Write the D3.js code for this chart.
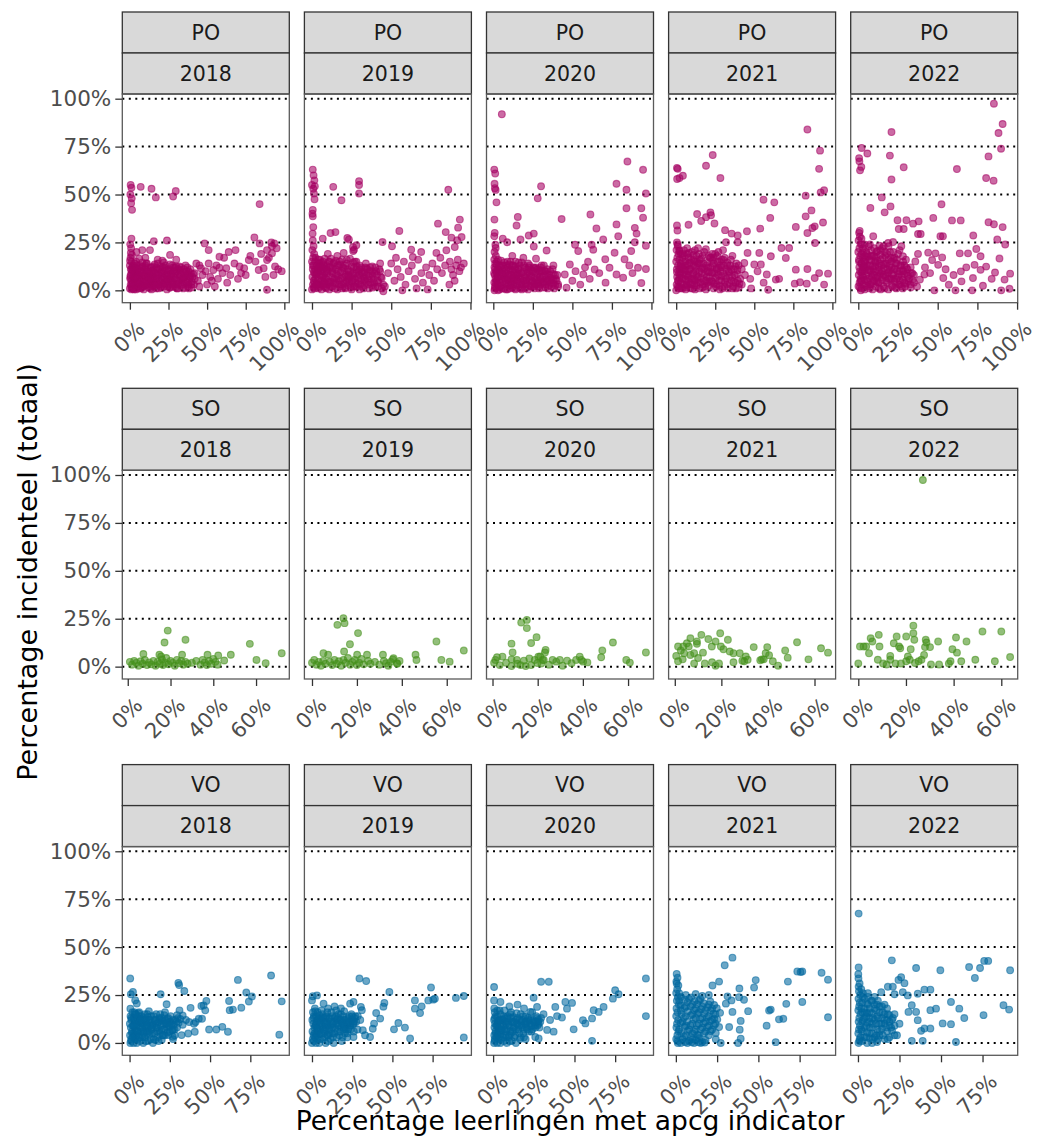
<!DOCTYPE html>
<html>
<head>
<meta charset="utf-8">
<script src="https://cdn.jsdelivr.net/npm/d3@7"></script>
<style>
  body { margin: 0; background: #fff; }
  text { font-family: "DejaVu Sans", Verdana, sans-serif; }
</style>
</head>
<body>
<svg id="chart"></svg>
<script>
const width = 1046,
  height = 1137;

const types = ["PO", "SO", "VO"];
const years = [2018, 2019, 2020, 2021, 2022];
const typeColors = ["#A50062", "#45901C", "#00689E"];
const yTicks = [0, 25, 50, 75, 100];
const xTicksPO = [0, 25, 50, 75, 100];
const xTicksSO = [0, 20, 40, 60];
const xTicksVO = [0, 25, 50, 75];
const xTitle = "Percentage leerlingen met apcg indicator";
const yTitle = "Percentage incidenteel (totaal)";

// points: [apcg %, incidenteel %]
const po2018 = [
  [0.5,55],[1,53.5],[0.3,50],[1.2,48],[0.8,45.5],[1.4,42],[7,54],[14,53],[16.8,48.5],[28,49],[29.7,51.8],[84,45],
  [0,1],[0.5,3],[1,5],[0.3,7],[1.2,9],[0.6,11],[0,13],[1,15],[0.4,17],[1.3,18.5],[0.8,22],[0.2,24],[1,27],[0.6,19.5],[0.1,15.5],[1.5,12],[0.9,2],[0.2,6],
  [4.3,20],[8,21],[13,21],[15.5,25.6],[24,26],[18,16],[26,18.5],[21,15.5],[30,16],[10,17],[6,16.5],[45,13],
  [2,1],[2,4],[2,7],[2,10],[2,13],[3,2.5],[3,5.5],[3,8.5],[3,12],[4,0.5],[4,4],[4,9],[4,15],[5,2],[5,6.5],[5,11],[6,3.5],[6,8],[6,13],[7,1],[7,5],[7,10],
  [8,3],[8,7.5],[8,12.5],[9,0.5],[9,5.5],[9,9.5],[10,2.5],[10,7],[10,12],[11,4.5],[11,14],[12,1.5],[12,6],[12,10],[13,3.5],[13,8],[14,0.5],[14,5],[14,12],
  [15,2.5],[15,7],[15,10.5],[16,4],[16,13.5],[17,1],[17,6],[17,9],[18,3],[18,11],[19,5],[19,8],[20,1.5],[20,12.5],[21,4],[21,7],[22,2],[22,10],[23,5.5],
  [23,13],[24,0.5],[24,8],[25,3],[25,11],[26,6],[26,1.5],[27,9],[27,4],[28,12],[28,2],[29,6.5],[30,10],[30,3.5],[31,8],[31,1],[32,5],[32,12.5],[33,2.5],
  [33,9.5],[34,6],[35,4],[35,11],[36,1.5],[36,8],[37,5.5],[38,3],[38,10],[39,7],[40,4.5],[41,8.5],[42,6],[40,1.5],[36,13],[20,9.5],[24,4.5],[28,7.5],[12,3],
  [1,0.5],[1.5,3.5],[2.5,6],[3.5,10],[4.5,13],[5.5,1],[6.5,6],[7.5,12],[8.5,2],[9.5,8],[10.5,14],[11.5,3],[12.5,9],[13.5,12],[14.5,2],[15.5,5],[16.5,9],
  [17.5,12],[18.5,1],[19.5,11],[20.5,6],[21.5,3],[22.5,12],[23.5,8],[24.5,2],[25.5,6],[26.5,10],[27.5,13],[28.5,4],[29.5,9],[30.5,1],[31.5,11],[32.5,7],
  [33.5,5],[34.5,1],[35.5,7],[36.5,10],[37.5,2],[38.5,6],[39.5,9],[2.2,11.5],[4.8,7.5],[7.2,3],[9.8,11],[12.2,5],[14.8,8.5],[17.2,4],[19.8,2],[22.2,6.5],
  [24.8,10],[27.2,5.5],[29.8,1.5],[32.2,10.5],[34.8,6.5],[37.2,12],[39.8,3],[3,14],[8,14.5],[18,14],[26,13.5],
  [0.5,8],[1.2,10.5],[2.7,0.5],[3.7,6.5],[4.2,11.5],[5.7,4],[6.2,9.5],[7.7,1.5],[8.2,9],[9.2,4],[10.7,5],[11.2,10],[11.8,7],[13.2,1],[13.8,6],[15.2,12.5],
  [16.2,2.5],[16.8,6.5],[18.2,8],[19.2,3],[20.8,9],[21.2,12],[22.8,4],[23.2,10.5],[24.2,6],[25.8,1.5],[26.2,8],[27.8,3],[28.2,10],[29.2,12],[30.2,5.5],
  [31.2,3],[32.8,8.5],[33.2,12],[34.2,3],[35.2,9],[36.8,4],[37.8,8],[38.2,1],[39.2,11],[40.5,7],[41.5,3],[10,13],[14,10],[22,14.5],[30,12.5],
  [43,14],[46,11.5],[51,14],[54,10.6],[58,11.8],[62.4,11.5],[67.7,14],[71,12.5],[74,11.5],[77,15.8],[81.3,15],[83.4,10.6],[86.6,11.5],[88.8,15.8],[92,19.3],
  [94,12.5],[96,11],[98.3,10],[87.7,7],[93,8],[75,8],[58,17.5],[61,17],[64,20],[68.4,21],[48.4,24.5],[51,21],[80.6,27.6],[84,24.5],[91.6,25],[93.5,24.5],
  [88.8,21],[92,23],[88.8,0.3],[44,5],[47,8],[50,3],[52,7],[55,2],[57,6],[60,9],[63,4],[65,8],[70,6],[72,9],[78,18],[85,19],[90,17],[95,22],[56,13],[42,9],
  [45,2],[49,10],[53,5]
];
const po2019 = [
  [0.5,63],[1,60],[1.5,57.4],[0,55],[1.8,54.3],[0.8,53],[1.2,50.5],[1.6,47.5],[0.5,42],[0.3,40],[0.5,38.6],[0.8,33],[0.4,29.6],[0.5,26],[1,23],[0.2,21],
  [1.4,19],[0.7,17],[0,15],[1.2,13],[0.5,11],[1.8,9],[0.3,7],[1.1,5],[0.6,3],[1.5,1],[0,0.5],
  [13.4,54],[18.6,47],[29.7,57],[29.7,55],[29.7,50.5],[86,52.5],
  [11.7,29.9],[14.8,30.4],[6.8,27],[22.3,27.3],[23.3,26.5],[25.9,22.6],[26.5,21.2],[44.5,25.2],[55.1,31],[50.5,23],[79.5,34.8],[84.4,30.4],[93.3,36.9],
  [92.2,32.7],[94.4,27.8],[88,27.5],[91.6,26.1],[90.1,22.6],[62.6,21.2],[68.9,20],[78.5,19.5],[63.6,17.4],[84.8,20.9],
  [46,2],[48,9],[50,14],[52,5],[54,11],[56,7],[58,15],[59,3],[61,10],[63,13],[65,6],[67,16],[69,9],[70,4],[72,12],[74,8],[76,14],[77,5],[79,11],[81,17],
  [82,9],[84,13],[86.7,3],[87,15],[88,11],[89,8],[91,13],[92,16],[93,10],[94,12],[95.8,14],[90,5],[57,0],[45,-0.5],[53,17],[66,1],[73,0.5],
  [2,2],[2,6],[2,11],[2,15],[3,4],[3,8.5],[3,13],[4,1],[4,6],[4,10.5],[4,16],[5,3],[5,8],[5,12.5],[6,0.5],[6,5],[6,14.5],[7,2.5],[7,7.5],[7,11],[8,4],
  [8,9],[8,16.5],[9,1],[9,6],[9,13],[10,3],[10,10],[11,7.5],[11,15],[11,0.5],[12,4.5],[12,12],[13,2],[13,9],[14,6],[14,14.5],[15,3.5],[15,11],[16,0.5],
  [16,7.5],[17,5],[17,13],[18,2],[18,9.5],[19,6.5],[19,16],[20,3.5],[20,11.5],[21,1],[21,8],[22,5],[22,14],[23,2.5],[23,10],[24,7],[25,0.5],[25,4.5],
  [25,12.5],[26,9],[27,2],[27,6],[28,11],[28,15],[29,3.5],[30,8],[30,0.5],[31,5.5],[31,12],[32,9.5],[33,2.5],[33,7],[34,4.5],[35,11],[36,1],[36,7.5],
  [37,4],[38,10],[39,6],[40,2],[40,12],[41,8],[42,4],[43,10],[44,6.5],[45,3],[43,14],[24,16.5],[26,20.5],[28,23.5],[16,18],[10,19],[20,19.5],
  [1,1.5],[1.5,4],[2.5,8],[3.5,11],[4.5,14],[5.5,2],[6.5,7],[7.5,13],[8.5,1.5],[9.5,9],[10.5,15],[11.5,4],[12.5,10],[13.5,14],[14.5,1],[15.5,6],[16.5,10],
  [17.5,15],[18.5,3],[19.5,12],[20.5,7],[21.5,4],[22.5,11],[23.5,6],[24.5,1.5],[25.5,8],[26.5,12],[27.5,4],[28.5,7],[29.5,10],[30.5,3],[31.5,9],[32.5,1],
  [33.5,12],[34.5,8],[35.5,3],[36.5,10],[37.5,6],[38.5,1.5],[39.5,9],[41.5,5],[42.5,11],[44,1],[2.2,17],[5,16],[8,11.5],[12,16.5],[18,13.5],[22,16],
  [26,14.5],[30,13],[34,14],[4,3],[7,5],[13,6.5],[19,1],[23,7.5],[28,2],[33,5],[38,12.5],
  [0.5,13],[1.2,9.5],[2.7,3],[3.7,9.5],[4.2,12],[5.7,10],[6.2,12.5],[7.7,3.5],[8.2,6.5],[9.2,11],[10.7,4.5],[11.2,12.5],[11.8,2],[13.2,11.5],[13.8,4],
  [15.2,8.5],[16.2,13],[16.8,3],[18.2,6],[19.2,10],[20.8,1.5],[21.2,13],[22.8,8],[23.2,4],[24.2,10],[25.8,5.5],[26.2,2],[27.8,9],[28.2,12.5],[29.2,6],
  [30.2,11],[31.2,2],[32.8,6],[33.2,9.5],[34.2,11.5],[35.2,6],[36.8,12],[37.8,2.5],[38.2,8],[39.2,4],[40.5,10],[41.5,2],[43.5,7],[15,15.5],[7,15],[27,15]
];
const po2020 = [
  [0.6,63],[1.2,61],[0.8,55.6],[1,53.3],[1.5,52.4],[2,45.9],[0.7,36.9],[0.9,30],[0.6,28.2],[1.3,23.8],[1.5,22.1],[0.8,20],[1.6,18],[0.6,16],[1.2,14],
  [0.7,12],[1.8,10],[0.9,8],[1.4,6],[0.6,4],[1.1,2],[0.7,0],
  [5.4,91.9],[30.2,54.3],[28.1,48],[15.5,38.3],[14.7,33.8],[43.2,37.2],[61.4,39.6],[65.2,32.3],[77.9,55.6],[84.2,52.5],[84.8,67.2],[94.7,62.9],[96.5,50.5],
  [84.2,42.8],[93.6,42.8],[94.7,37.9],[77.9,34.4],[79,28.2],[89.5,32.6],[90.6,29.6],[96.5,23.3],[89.5,25.1],[69.5,26.5],[62.2,23.8],[63.2,21.2],[51.7,23.8],
  [33.7,20.8],[17.2,26.5],[22.4,28.6],[25.6,29.6],[25.6,22.9],[8.8,25.1],[6,27],
  [96.5,11.1],[93.6,3.8],[87.2,20.5],[83,16.2],[76.7,19.6],[70.8,16.2],[73.5,11.8],[77.9,8.3],[82.1,6.6],[91.5,11.8],[59.9,14.9],[64.1,10.9],[56.9,8.3],
  [53.7,20.5],[48.4,13.5],[45.2,8.3],[46.3,1.4],[41,3.1],[50,5],[52,10],[55,3],[58,12],[61,6],[67,9],[71,4],[86,13],[88,9],
  [2,1.5],[2,5],[2,9],[2,13.5],[3,3],[3,7],[3,11],[3,16],[4,0.5],[4,5.5],[4,9.5],[5,2.5],[5,7.5],[5,13],[6,4.5],[6,10.5],[7,1],[7,6.5],[7,14.5],[8,3.5],
  [8,9],[9,0.5],[9,5.5],[9,12],[10,2.5],[10,8],[11,4.5],[11,10.5],[11,15],[12,1.5],[12,6.5],[13,3],[13,9.5],[14,0.5],[14,5.5],[14,12.5],[15,2.5],[15,8],
  [16,4.5],[16,11],[17,1],[17,6.5],[18,3],[18,9],[18,14.5],[19,5],[20,1],[20,7],[20,12],[21,3.5],[22,9.5],[22,0.5],[23,5.5],[23,13],[24,2],[24,7.5],
  [25,4.5],[25,10],[26,1],[26,6.5],[27,3],[27,12],[28,8.5],[29,5],[29,1],[30,10.5],[30,3],[31,7],[32,4.5],[32,13],[33,1.5],[34,8.5],[34,5],[35,2.5],
  [36,10],[37,6],[38,3.5],[39,8],[40,5],[38,13],[19,17],[12,18],[27,16.5],
  [1,1],[1.5,4],[2.5,7],[3.5,10],[4.5,12],[5.5,1],[6.5,6],[7.5,9],[8.5,13],[9.5,3],[10.5,11],[11.5,6],[12.5,13],[13.5,1],[14.5,8],[15.5,11],[16.5,3],
  [17.5,9],[18.5,6],[19.5,13],[20.5,3],[21.5,9],[22.5,12],[23.5,2],[24.5,5],[25.5,12],[26.5,9],[27.5,5],[28.5,2],[29.5,7],[30.5,13],[31.5,4],[32.5,10],
  [33.5,6],[34.5,1],[35.5,8],[36.5,4],[37.5,11],[38.5,1],[39.5,6],[2.2,15],[5,15.5],[9,15],[14,15],[3,0],[8,0.5],[13,5],[18,0.5],[23,9],[28,11],[33,10],
  [41,2],[6,8.5],[11,2.5],[16,7],[21,5.5],[26,3.5],[31,10],[36,6.5],[12,10],
  [0.5,9],[1.2,11],[2.7,3.5],[3.7,13],[4.2,2],[5.7,9],[6.2,13],[7.7,5],[8.2,11],[9.2,7],[10.7,1],[11.2,8],[11.8,13],[13.2,6.5],[13.8,11],[15.2,5],
  [16.2,9],[16.8,13],[18.2,1.5],[19.2,9.5],[20.8,5],[21.2,11],[22.8,2.5],[23.2,7],[24.2,10.5],[25.8,2],[26.2,11.5],[27.8,7],[28.2,3.5],[29.2,10],[30.2,6],
  [31.2,1.5],[32.8,7.5],[33.2,3],[34.2,11],[35.2,5],[36.8,2],[37.8,8.5],[38.2,5.5],[39.2,2.5],[40.5,8],[10,13.5],[16,14.5],[22,14],[30,12]
];
const po2021 = [
  [0.5,25],[1,23],[0.2,21],[1.5,19],[0.7,17],[0,15],[1.2,13],[0.4,11],[1.8,9],[0.6,7],[1.1,5],[0.3,3],[1.4,1],[0,0],[2,20.5],[0.9,24],
  [84,83.9],[92.1,72.9],[91.5,63.4],[94.7,52.2],[92.5,51.1],[82.9,49.4],[86.6,41.7],[82.9,38.6],[88.7,33.4],[87.2,32.5],[84,29.9],[94,35.4],[88.9,24.7],
  [76.6,33.1],[62.8,45.9],[55.9,47.3],[60.2,37.8],[53.8,32.2],[45.3,30.8],[23.4,70.6],[19.1,65],[28.3,58.6],[0.5,63.9],[1,63.4],[2.1,58.6],[4.3,59.8],
  [0.6,58.1],[13.4,39.8],[19.1,38.2],[21.9,40.7],[16,36.2],[24.5,34.9],[22.3,39.2],[7.9,34.2],[0.5,33.8],[0.8,31.2],[31.3,31.4],[35.5,29.6],[39.4,28.6],
  [31.9,25.1],[39.4,25.1],
  [97.2,8.7],[94.7,3],[91.5,9],[88.7,6.4],[84,11.1],[79.3,4.2],[76.6,10.8],[72.3,22.1],[70.2,16.9],[67.4,22.1],[60.6,17.8],[54.2,13.5],[58,8.3],[58.9,0.3],
  [63.8,5.6],[75.9,3.5],[83.6,3.5],[65.9,6],[47.4,6],[52.1,9.9],[53.2,19.5],[45.7,19.5],[43.6,14.3],[50,13.5],[42,3],[44,8],[48,1],[56,4],
  [2,2],[2,6.5],[2,11],[2,16],[3,4],[3,9],[3,14],[3,19],[4,1],[4,6],[4,12],[4,17],[5,3],[5,8.5],[5,21],[6,0.5],[6,5.5],[6,10.5],[6,15],[7,2.5],[7,13],
  [7,19],[8,4.5],[8,8],[8,17],[9,1],[9,11],[9,14.5],[10,6],[10,20],[10,3],[11,9],[11,16],[12,0.5],[12,5],[12,12.5],[13,2.5],[13,8],[13,18],[14,14],[14,4],
  [15,10],[15,1],[16,6.5],[16,16.5],[17,3],[17,12],[18,8.5],[18,20],[19,0.5],[19,5],[20,14.5],[20,10],[21,2.5],[21,7],[22,17],[22,12],[23,4.5],[23,9],
  [24,1],[24,14],[25,6.5],[25,19],[26,11],[26,3],[27,8],[28,15],[28,0.5],[29,5],[29,12],[30,9],[31,2],[31,17],[32,6],[33,13],[34,3.5],[34,9.5],[35,16],
  [36,1],[36,7],[37,11],[38,4],[39,8.5],[40,13],[40,1.5],[41,6],[30,21],[14,22],[27,20],[36,18],
  [1,2],[1.5,5],[2.5,8],[3.5,12],[4.5,15],[5.5,18],[6.5,3],[7.5,7],[8.5,11],[9.5,16],[10.5,1],[11.5,6],[12.5,10],[13.5,15],[14.5,19],[15.5,4],[16.5,9],
  [17.5,14],[18.5,2],[19.5,7],[20.5,12],[21.5,17],[22.5,5],[23.5,13],[24.5,9],[25.5,2],[26.5,15],[27.5,5],[28.5,10],[29.5,1],[30.5,13],[31.5,7],[32.5,3],
  [33.5,10],[34.5,13],[35.5,5],[36.5,2],[37.5,8],[38.5,14],[39.5,5],[2.2,21],[5,11],[8,19.5],[11,13],[14,7],[17,18],[20,4],[23,19],[26,7],[29,16],[32,11],
  [3,1],[6,8],[9,6],[12,15],[15,14],[18,11],[21,9.5],[24,17],[27,11.5],
  [0.5,9.5],[2.7,12.5],[3.7,6.5],[4.2,19],[5.7,13],[6.2,1.5],[7.7,10],[8.2,14],[9.2,3.5],[10.7,8.5],[11.2,18.5],[11.8,2.5],[13.2,12],[13.8,6],[15.2,16],
  [16.2,11.5],[16.8,1.5],[18.2,5],[19.2,13],[20.8,18],[21.2,4.5],[22.8,9.5],[23.2,15.5],[24.2,3.5],[25.8,11.5],[26.2,18],[27.8,2.5],[28.2,13],[29.2,7.5],
  [30.2,16],[31.2,4.5],[32.8,14.5],[33.2,1],[34.2,7.5],[35.2,11],[36.8,4.5],[37.8,12.5],[38.2,1],[39.2,10.5],[40.5,3.5],[42,11],[12,21],[19,21.5],[7,22]
];
const po2022 = [
  [0.5,30],[1,28],[0.2,26],[1.5,24],[0.7,22],[0,20],[1.2,18],[0.4,16],[1.8,14],[0.6,12],[1.1,10],[0.3,8],[1.4,6],[0.8,4],[0.1,2],[1.6,0],[2,27],[0.9,31],
  [85.4,97.4],[90.9,86.8],[88.3,82.1],[89.9,73.9],[82,69.9],[80.5,58.6],[85.2,57.2],[20.9,82.6],[19.9,70.3],[20.9,57.8],[28.6,64.2],[62.1,63.3],[2.1,74.3],
  [0.5,69],[0.7,67.3],[1.9,64.4],[1.1,62.6],[5.7,71.4],[14.8,48.5],[7.6,43],[16.6,40.7],[20.3,43.8],[52.4,44.9],[47.2,37.8],[24.7,36.6],[30.3,36.6],
  [34.5,34.8],[38,36],[59,36.5],[64.5,36.5],[82,35.5],[85.4,34.5],[90.9,33],[25.5,32],[28.6,32],[37.6,29.4],[39.3,29.4],[51.7,28.2],[53.3,28.2],[72.4,28.6],
  [87.5,26.5],[92.5,23.9],[74.3,21.6],[77,17.8],[88.9,16.6],[69.1,19.3],[63.9,19.3],[52.8,17.2],[44,19.7],[48.6,19.3],[37.6,19],[35.9,15.1],[27.1,23],
  [28.1,17.8],[21.9,25.2],[18.8,24.7],[13.3,23.3],[9.4,28.2],[7.3,23.9],
  [95.6,8.7],[90,0],[95.2,0.8],[92.1,5.6],[86.1,9.3],[80.5,12.4],[77,10.7],[73.2,13.3],[72.2,6.4],[78.5,2.4],[71.7,0],[65,4.7],[61.2,0],[57,2.9],[53.5,6.4],
  [64.6,9.9],[47.9,0],[45.2,9],[41.6,8.2],[38.8,5.6],[46.5,15.8],[50.3,13.3],[55,11],[60,8],[68,12],[84,6],[42,12],
  [2,1],[2,5],[2,9.5],[2,14],[2,19],[3,3],[3,7],[3,12],[3,17],[3,22],[4,0.5],[4,5.5],[4,10],[4,15],[5,2.5],[5,8],[5,20],[6,4.5],[6,13],[6,17.5],[7,1],
  [7,6.5],[7,10.5],[8,3],[8,15.5],[8,21],[9,8.5],[9,12.5],[9,0.5],[10,5],[10,18],[11,2],[11,10],[11,14.5],[12,7],[12,20.5],[13,4],[13,12],[14,0.5],[14,9],
  [14,16],[15,5.5],[15,22],[16,2],[16,11.5],[17,7.5],[17,18],[18,4],[18,14],[19,0.5],[19,9.5],[20,6],[20,20],[21,12],[21,2.5],[22,16.5],[22,8],[23,4.5],
  [23,11],[24,1],[24,14],[25,7],[25,19],[26,3],[26,10],[27,13],[28,5.5],[28,1],[29,8.5],[30,3.5],[30,16],[31,11],[32,6],[33,1.5],[34,9],[35,4],
  [1,1.5],[1.5,5],[2.5,8],[3.5,12],[4.5,16],[5.5,19],[6.5,23],[7.5,3],[8.5,7],[9.5,11],[10.5,15],[11.5,20],[12.5,4],[13.5,8],[14.5,13],[15.5,17],[16.5,1],
  [17.5,5],[18.5,9],[19.5,13],[20.5,17],[21.5,2],[22.5,6],[23.5,14],[24.5,10],[25.5,3],[26.5,13],[27.5,7],[28.5,10],[29.5,2],[30.5,9],[31.5,5],[33,12],
  [35,8],[37,2],[2.2,24],[5,12],[8,10],[11,6.5],[14,21],[17,14],[20,10.5],[23,17],[26,21],[29,13],[3,20],[6,2],[9,18],[12,15.5],[15,10],[18,19],[21,6],
  [24,6],[27,2],[4,12.5],[7,16],[10,8],[13,1],[16,8],[19,23],
  [0.5,15],[2.7,10.5],[3.7,15],[4.2,18],[5.7,6],[6.2,10.5],[7.7,13],[8.2,18],[9.2,4.5],[10.7,12.5],[11.2,17.5],[11.8,4.5],[13.2,14],[13.8,18.5],[15.2,7],
  [16.2,13.5],[16.8,20],[18.2,11],[19.2,6],[20.8,15],[21.2,8.5],[22.8,11.5],[23.2,1.5],[24.2,16],[25.8,8.5],[26.2,5],[27.8,10.5],[28.2,15],[29.2,4],
  [30.2,12],[31.2,7.5],[32.8,3],[33.2,9],[34.2,5.5],[10,22],[16,23],[4,24],[22,20],[13,10.5],[19,16]
];

const so2018 = [
  [18.7,18.8],[17.2,12.6],[27,14],[57.1,11.9],[72,7],[60.2,3.5],[64.5,1.8],[7.3,6.6],[14.8,6.2],[15.6,5.3],[25.4,6.2],[37.3,6.2],[42.3,5.8],[48.2,6.2],[45.1,3.2],
  [1,2.5],[2,1],[3,3],[4,2],[5,0.5],[6,2.8],[7,1.5],[8,3.5],[9,0.8],[10,2.2],[11,1.2],[12,3],[13,0.5],[14,2.5],[15,1.5],[16,3.8],[16.5,0.8],[17.5,2],
  [18,4.5],[19,1.2],[20,3],[21,2],[22,0.5],[23,3.5],[24,1.8],[25,3],[26,1],[27,2.5],[28,1.5],[30,2],[32,3],[34,1],[35,3.5],[36,2.2],[37,0.8],[38,3],
  [39,1.5],[40,4],[41,2.5],[42,1]
];
const so2019 = [
  [11.3,21.8],[14,25.3],[14.5,22.7],[20.5,17.5],[16.9,11.7],[55.4,13.1],[67.6,8.4],[57.6,3.5],[61.3,2.6],[46.1,6.2],[46.5,3.5],[5.1,7],[7.2,6.2],[14.3,7.9],
  [20.1,6.2],[24.5,6.2],[31.6,6.2],[36.3,4.4],[37.8,1.8],
  [0,2],[1,3.5],[2,1],[3,2.5],[4,0.5],[5,3],[6,1.5],[8,2.5],[9,0.8],[10,3.5],[11,1.5],[12,2.8],[13,0.5],[14,3.5],[15,2],[16,4.5],[17,1],[18,2.5],
  [19,3.5],[20,0.8],[21,2],[22,4],[23,1.2],[25,3],[26,1.5],[28,2.5],[30,1],[32,3],[33,1.8],[34,0.5],[35,2.5],[36,3.8],[38,1.5],[39,3]
];
const so2020 = [
  [12.7,23],[15.2,24.4],[15.2,20.1],[19.5,15.4],[17.1,12.3],[8.4,12],[53.3,12.6],[48.6,8.4],[48.1,4.9],[67.9,7.4],[59.2,3.5],[60.8,2.1],[23.5,8.7],
  [23.2,7.4],[21.1,5.3],[8.9,7.4],
  [1.3,3.5],[2,4.9],[4.4,5.2],[8.4,3.8],[10.8,3.5],[13.9,3.1],[16.3,4.3],[18.7,3.5],[20.3,5.2],[22.7,3.5],[26.6,3.5],[28.2,2.6],[29.8,3.5],[33,3.1],
  [37,3.5],[38.6,5.2],[40.1,2.6],[39.3,3.5],[3.2,0.8],[8.4,0.3],[12.4,0.8],[14.7,0.3],[17.1,0.8],[19.9,1.9],[21.6,1.6],[22.2,3.5],[6,2],[11,1.5],
  [25,1],[31,0.5],[35,1.8],[42,2.2],[0.7,2]
];
const so2021 = [
  [0.6,5.6],[1.4,2.8],[2.6,8.4],[3.4,3.8],[6.7,6.1],[8.3,7],[9.5,11.9],[12.1,7.3],[14.4,14.4],[17.5,13.1],[19.5,17.4],[20.9,9.1],[22.8,14],[23.6,7.9],
  [19.8,10.5],[25.2,7],[27.9,7],[30.5,5.3],[29.8,2.8],[33.9,10.2],[38.2,3.8],[39.7,10.2],[39,7],[40.5,6],[42.1,2.8],[44.4,0.5],[47.4,8.4],[48.5,4.7],
  [52.5,12.7],[57.4,3.8],[62.8,9.6],[65.8,7.3],[8.3,1.6],[12.9,1.6],[16,2.3],[17.5,0.5],[19,1.6],[25.2,2.3],[29,3.1],[31.3,3.6],[36.7,3.3],[37.4,3.8],
  [1.4,10.5],[3.7,10.5],[6,10.5],[6.7,14.8],[9.5,13.1],[5.2,12.2],[11.4,16.6],[15.9,10.5],[4,7],[10,4.5]
];
const so2022 = [
  [0,1.6],[0.7,10.5],[2.2,10.5],[3.3,10.5],[5.2,14.8],[5.9,13.1],[4.5,7],[8.6,16.6],[8.9,10.5],[8.2,3.6],[11.9,1.1],[13.4,5.6],[14.9,12.2],[15.6,1.6],
  [16.1,15.7],[17.1,10.5],[17.6,9.6],[20.1,15.7],[20.8,5.3],[22,9.1],[23.1,17.4],[23.1,21.4],[23.5,14],[23.8,1.9],[25.3,2.8],[27.1,97.4],[27.6,6.1],
  [28,10.2],[28.6,12.6],[30.1,10.2],[30.5,1.1],[33.5,13.1],[33.9,1.1],[38,1.6],[38.7,2.8],[39.5,9.1],[41,15.2],[41.4,7.3],[43.2,2.8],[45.4,13.1],
  [49.1,3.6],[52.1,18.3],[57.3,2.8],[60,18.3],[63.7,5],[28.3,14],[26.5,3.6],[21.6,3.6],[17.9,1.6],[10.4,1.6],[13.4,3.6],[20.1,2.8]
];

const vo2018 = [
  [0.4,33.6],[2.1,26.6],[0.8,25.4],[3.5,22.3],[4.5,20.6],[0.5,17.9],
  [19.3,25.4],[23,20.2],[30.3,31.3],[30.8,30.2],[34,27.1],[37.9,18.3],[44.6,19.3],[47.7,21.9],[61.8,21.9],[67.3,32.9],[72.5,26.3],[74.1,21.6],[76,24.2],
  [87.9,35.2],[94.5,21.7],[93,4.3],[62.2,17.1],[64.2,17.4],[69.4,18.4],[49.4,7],[53.9,7],[57.6,8.4],[61.1,5.8],[40.5,5.8],[36.4,4.9],[32.3,4.1],[26.8,3.2],
  [24.1,4.1],[20,1.6],[41,10.9],[43,12.6],[45,12.6],[47,17],[46,19.6],[40,10],[37,10.9],[33,14.3],[31,17],
  [0.5,0],[1,2],[0.3,4],[1.5,6],[0.8,8],[0.2,10],[1.2,12],[0.6,14],[1.8,16],[2.5,0],[2.5,5],[2.5,9],[2.5,13],[3.5,2],[3.5,7],[3.5,11],[3.5,15],[4.5,0],
  [4.5,4],[4.5,9],[4.5,13],[5.5,6],[5.5,11],[5.5,15.5],[6.5,1],[6.5,8],[6.5,12.5],[7.5,4],[7.5,10],[7.5,14],[8.5,0],[8.5,6],[8.5,12],[9.5,3],[9.5,9],
  [9.5,15],[10.5,6],[10.5,11],[11.5,1],[11.5,8],[11.5,13.5],[12.5,4.5],[12.5,10.5],[13.5,7],[13.5,14],[14.5,0],[14.5,9.5],[15.5,5],[15.5,12],[16.5,8],
  [16.5,15],[17.5,3],[17.5,10.5],[18.5,6.5],[18.5,13],[19.5,9],[20.5,4],[20.5,11.5],[21.5,7],[21.5,14.5],[22.5,10],[23.5,5.5],[23.5,12.5],[24.5,8.5],
  [25.5,11],[25.5,14],[26.5,6.5],[27.5,9.5],[28.5,12],[29.5,8],[29.5,14.5],[30.5,10.5],[31.5,12.5],[33,9.5],[35,12],[27,2],[28,4],[16,1.5],[12,16.5],
  [6,16],[22,16],
  [1,1],[1.5,5],[2,9],[1,13],[3,4],[3,12],[4,6],[5,2],[5,10],[6,14],[7,6],[8,3],[8,10],[9,13],[10,1],[10,8],[11,5],[12,12],[13,2],[13,9],[14,5],[15,14],
  [16,10],[17,6],[18,1],[19,12],[20,7],[21,10],[22,4],[23,8],[24,13],[25,6],[26,10],[27,12],[28,7],[30,13],[11,15],[19,15],[24,11],[3,16],
  [2,3],[3,9],[4,15],[5,6],[6,3],[7,12],[8,8],[9,5],[10,12],[11,9],[12,6],[13,12],[14,8],[15,2],[16,12],[17,8],[18,11],[19,5],[20,13],[21,4],[22,12],
  [23,10],[25,9],[27,7],[29,11]
];
const vo2019 = [
  [29.5,33.6],[33.7,32.3],[48.1,26.6],[74,28.9],[75.4,22.6],[76.4,23.1],[64,22.2],[68.2,19.1],[64,17.9],[67.2,15.6],[72.3,22.2],[89.5,23.5],[94.4,24.5],
  [94.4,2.8],[61,2.3],[51,7.1],[53.7,10.4],[57.8,8],[45,20.9],[44.4,18.9],[39.9,15.6],[42.4,12.7],[38.6,10.1],[37.8,7.4],[36.1,3.1],[31.6,6.6],[33,4],
  [25.8,3.1],[28.3,7],[23.7,20.5],[25.8,21.4],[30.4,18.8],[31,17.1],[0,22.2],[3.1,24.8],[7.2,20.5],[0.5,24.4],[14,19],[18,18],
  [0,0],[0.5,2],[1,4],[0.3,6],[1.5,8],[0.8,10],[0.2,12],[1.2,14],[0.6,16],[1.8,18],[2.5,0],[2.5,5],[2.5,9.5],[2.5,14],[3.5,2],[3.5,7],[3.5,12],[3.5,16],
  [4.5,0],[4.5,4.5],[4.5,10],[4.5,14.5],[5.5,7],[5.5,12],[6.5,2],[6.5,9],[6.5,15],[7.5,5],[7.5,11],[8.5,0],[8.5,8],[8.5,13.5],[9.5,4],[9.5,10],[9.5,16],
  [10.5,7],[10.5,12.5],[11.5,2],[11.5,9],[12.5,5],[12.5,14],[13.5,11],[13.5,0],[14.5,7.5],[15.5,3],[15.5,12],[16.5,9],[16.5,15],[17.5,6],[18.5,11],
  [18.5,1],[19.5,8],[19.5,14],[20.5,5],[21.5,10.5],[22.5,13],[22.5,7],[23.5,9],[24.5,12],[24.5,15],[25.5,10],[26.5,13],[27.5,11],[28.5,14],[26,6],
  [22,3],[30,12],[15,17],[10,18],[20,16.5],
  [1,1],[1.5,5],[2,9],[1,13],[3,4],[3,11],[4,6],[5,2],[5,9],[6,13],[7,7],[8,3],[8,10],[9,14],[10,1],[10,9],[11,5],[12,11],[13,3],[13,8],[14,13],[15,10],
  [16,6],[17,12],[18,8],[19,3],[20,12],[21,7],[22,10],[23,14],[24,9],[25,12],[26,10],[27,14],[18,15],[12,16],[6,17],[2,16.5],[20,9],[16,13],
  [2,3],[3,8],[4,13],[5,11],[6,5],[7,13],[8,6],[9,11],[10,4],[11,13],[12,7],[13,10],[14,5],[15,14],[16,10],[17,4],[18,12],[19,10],[20,7],[21,12],[22,5],
  [23,11],[24,7],[25,14],[26,11]
];
const vo2020 = [
  [0.6,29.2],[29.5,31.9],[34.2,31.9],[93.9,33.6],[93.9,14],[75,27.5],[77.1,25.4],[73.6,23.1],[67.9,18.8],[64.9,16.2],[61.8,17.1],[60.8,12.8],[56.7,10.2],
  [55.2,11.9],[60.8,1.1],[49.5,7.1],[44.4,21.4],[48.5,20.9],[45.4,17.9],[38.2,18.8],[42.3,13.3],[39.3,14],[37.2,5.9],[33.2,6.8],[24.9,23.6],[27,18.8],
  [22.9,16.2],[27.4,9.2],[25.9,3.1],[28,2.3],[0.6,22.2],[4.5,21.4],[2.5,16.9],[15,20],[10,19],[19,18],[31,15],[35,12],
  [0.6,0],[1,2],[0.7,4],[1.5,6],[0.8,8],[1.2,10],[0.6,12],[1.6,14],[1,16],[0.7,18],[2.5,0],[2.5,5],[2.5,9.5],[2.5,13.5],[3.5,2],[3.5,7],[3.5,11.5],
  [4.5,0],[4.5,4.5],[4.5,9],[4.5,15],[5.5,6.5],[5.5,12],[6.5,1],[6.5,9],[6.5,14],[7.5,4],[7.5,11],[8.5,0],[8.5,7],[8.5,13],[9.5,3],[9.5,9.5],[10.5,6],
  [10.5,15],[11.5,1],[11.5,11],[12.5,8],[12.5,13.5],[13.5,4],[14.5,10],[14.5,15.5],[15.5,7],[16.5,12],[16.5,2],[17.5,9],[18.5,14],[18.5,5],[19.5,11],
  [20.5,8],[21.5,13],[22.5,10],[23.5,6],[24.5,12],[25.5,9],[26.5,14],[27.5,11],[28.5,8],[29.5,13],[20,2],[14,0],[24,16],[7,17],
  [1,1],[1.5,5],[2,9],[1,13],[3,4],[3,11],[4,6],[5,2],[5,10],[6,12],[7,7],[8,3],[8,10],[9,14],[10,1],[10,9],[11,5],[12,11],[13,3],[13,8],[14,12],[15,10],
  [16,5],[17,11],[18,8],[19,3],[20,11],[21,7],[22,12],[23,9],[24,7],[25,11],[26,8],[27,13],[28,10],[17,15],[11,16],[4,17],[20,14],[29,11],
  [2,3],[3,8],[4,12],[5,7],[6,3],[7,13],[8,6],[9,11],[10,4],[11,13],[12,6],[13,11],[14,7],[15,13],[16,9],[17,3],[18,12],[19,7],[20,10],[21,11],[22,6],
  [23,12],[24,9],[26,11],[28,12]
];
const vo2021 = [
  [34.3,44.5],[29.6,40.5],[26.2,32],[22.2,30],[48.4,32.8],[47.4,28.9],[38.5,28.4],[67.9,32],[73.6,37.3],[76.6,37.3],[75.6,37],[88.3,36.6],[92.2,33],
  [92.2,13.4],[76.6,21.4],[66.9,20.4],[57.5,17.4],[56.5,16.9],[62.5,12.3],[65.1,12.6],[55,9],[60.5,0.4],[38.3,23.9],[41.3,22.5],[43.8,16.6],[39.3,11.5],
  [38.7,6.9],[39.3,2.2],[37.7,0],[34.3,16.2],[32.3,8.3],[33.7,22.2],[31.3,24.3],[30.3,20.5],[26.8,15.7],[23.2,12.7],[26.2,8.3],[24.2,5.2],[27.2,0],[24.2,1.9],
  [0.5,36],[1,34],[0.3,32],[1.5,30],[0.8,28],[0.2,26],[1.2,24],[0.6,22],[1.8,20],[0.4,18],[1,16],[0.2,14],[1.4,12],[0.7,10],[0.3,8],[1.6,6],[0.9,4],
  [0.2,2],[1.2,0],[0.5,31],
  [3,0],[5.5,0.5],[7,0],[9.5,0.3],[11,0],[13.5,0.4],[15,0],[17.5,0.2],[3.2,5],[2.8,10.5],[3.4,15],[2.9,19.5],[3.1,24],[5,3.2],[5.3,8.4],[4.8,13],
  [5.2,18.2],[5.4,22.6],[7.2,6.3],[6.8,11],[7.3,16.5],[7,21.3],[9.2,3],[8.8,9.2],[9.1,14.4],[8.9,19],[9.3,23.8],[11.2,5.8],[10.8,12.3],[11.1,17],
  [11.3,21.7],[13.1,4.2],[12.7,9.1],[13.2,15.3],[12.9,20.2],[15.1,7.2],[14.8,12.4],[15.2,17.6],[14.9,22.8],[17.1,5.1],[16.8,10.3],[17.2,15.2],
  [16.9,20.7],[19.1,8.3],[18.8,13.2],[19.2,18.6],[21.1,6.2],[20.8,11.4],[21.2,16.8],[20.9,21.6],[23.1,9.1],[22.8,15.3],[23.2,19.8],[25.1,12.2],
  [24.8,18.1],[2,26],[6,25],[12,25.5],[16,24.5],[20,25],[10,2],[14,2.5],[18,1.5],[20,4],
  [1,1],[2,7],[4,11],[3,17],[2,22],[6,4],[6,14],[6,19],[8,7],[8,23],[10,10],[10,15],[10,20],[12,7],[12,13],[12,18],[14,4],[14,10],[14,16],[16,8],
  [16,13],[16,19],[18,6],[18,11],[18,17],[20,9],[20,14],[20,20],[22,7],[22,12],[22,18],[24,10],[24,15],[4,2],[8,1],[12,1.5],[16,0.5],[6,9],[10,5],[14,22]
];
const vo2022 = [
  [0.4,67.5],[20.4,43.1],[35,39.1],[49.6,37.9],[66.9,39.6],[73.5,39.1],[70.4,33.9],[76,42.8],[78.4,42.8],[91.6,37.9],[87.6,19.7],[91,17.4],[75.6,14.5],
  [56,21.4],[61,17.9],[64,13],[51,10.2],[56,9.8],[59,0.5],[47,17.9],[43.6,17.1],[43.6,27.8],[40,27.8],[36,25.7],[26,34.3],[24.4,32.9],[28,31.2],
  [27,26.5],[30,24.8],[22,25.4],[18,29.3],[21,29.3],[14,26.5],[32.4,19.7],[30.4,16.2],[35,16.2],[36,11.9],[40,7.5],[38,6.3],[43.6,7.5],[32.4,1.1],[39,1.1],
  [0.4,39.4],[0.2,35.9],[0.3,33.6],[0.4,29.3],[1,31],[0.6,27],[1.4,25],[0.3,23],[1.1,21],[0.7,19],[0.2,17],[1.5,15],[0.8,13],[0.4,11],[1.2,9],[0.6,7],
  [0.2,5],[1.6,3],[0.9,1],[0.3,0],
  [2.5,1],[2.5,6],[2.5,11],[2.5,16],[2.5,21],[4,3],[4,8],[4,13],[4,18],[4,23],[5.5,0],[5.5,5.5],[5.5,10.5],[5.5,15.5],[5.5,20.5],[7,2.5],[7,8],[7,13],
  [7,18],[8.5,0],[8.5,5],[8.5,10],[8.5,15.5],[8.5,22],[10,3],[10,12],[10,18],[11.5,0.5],[11.5,7],[11.5,14],[11.5,20],[13,4],[13,10],[13,16],[14.5,7.5],
  [14.5,13],[14.5,19],[16,2],[16,10],[16,15],[17.5,6],[17.5,12],[17.5,18],[19,3],[19,9],[19,14.5],[20.5,6.5],[20.5,12],[22,15],[22,9],[23.5,4],[25,10],
  [6,24],[12,22],[3,26],
  [1,2],[2,7],[3,12],[2,18],[3,24],[5,3],[5,9],[5,14],[6,20],[7,5],[7,11],[7,16],[8,22],[9,2],[9,8],[9,13],[10,20],[11,4],[11,10],[11,17],[12,13],[13,6],
  [13,19],[14,10],[15,4],[15,16],[16,12],[17,8],[18,15],[18,2],[19,11],[20,8],[21,13],[22,4],[6,26],[10,24],[2,28],[4,16],[16,20],[12,2]
];

const pointsByType = [
  [po2018, po2019, po2020, po2021, po2022],
  [so2018, so2019, so2020, so2021, so2022],
  [vo2018, vo2019, vo2020, vo2021, vo2022]
];
const xTicksByType = [xTicksPO, xTicksSO, xTicksVO];

// layout
const left0 = 122.3,
  colStep = 182.1,
  panelW = 167,
  top0 = 94,
  rowStep = 376.3,
  panelH = 208.7,
  stripH = 41;

let svg = d3.select("#chart")
  .attr("width", width)
  .attr("height", height);

svg.append("rect")
  .attr("width", width)
  .attr("height", height)
  .attr("fill", "#fff");

let y = d3.scaleLinear()
  .domain([-6.45, 102.45])
  .range([panelH, 0]);

types.forEach((type, r) => {
  years.forEach((year, c) => {
    let data = pointsByType[r][c];
    let ext = d3.extent(data, d => d[0]);
    let pad = (ext[1] - ext[0]) * 0.05;
    let x = d3.scaleLinear()
      .domain([ext[0] - pad, ext[1] + pad])
      .range([0, panelW]);

    let g = svg.append("g")
      .attr("transform", `translate(${left0 + c * colStep}, ${top0 + r * rowStep})`);

    // strips
    [type, year].forEach((label, k) => {
      let sy = -2 * stripH + k * stripH;
      g.append("rect")
        .attr("x", 0)
        .attr("y", sy)
        .attr("width", panelW)
        .attr("height", stripH)
        .attr("fill", "#d9d9d9")
        .attr("stroke", "#333")
        .attr("stroke-width", 1.3);
      g.append("text")
        .attr("x", panelW / 2)
        .attr("y", sy + stripH / 2)
        .attr("dy", "0.36em")
        .attr("text-anchor", "middle")
        .attr("font-size", 20.5)
        .attr("fill", "#1a1a1a")
        .text(label);
    });

    // grid
    g.append("g").selectAll("line")
      .data(yTicks)
      .enter().append("line")
      .attr("x1", 0)
      .attr("x2", panelW)
      .attr("y1", d => y(d))
      .attr("y2", d => y(d))
      .attr("stroke", "#000")
      .attr("stroke-width", 2)
      .attr("stroke-dasharray", "2 4.5");

    // points
    g.append("g").selectAll("circle")
      .data(data)
      .enter().append("circle")
      .attr("cx", d => x(d[0]))
      .attr("cy", d => y(d[1]))
      .attr("r", 3.4)
      .attr("fill", typeColors[r])
      .attr("fill-opacity", 0.58)
      .attr("stroke", typeColors[r])
      .attr("stroke-opacity", 0.58)
      .attr("stroke-width", 1.1);

    g.append("rect")
      .attr("width", panelW)
      .attr("height", panelH)
      .attr("fill", "none")
      .attr("stroke", "#5a5a5a")
      .attr("stroke-width", 1.3);

    // x axis
    let xAxis = d3.axisBottom(x)
      .tickValues(xTicksByType[r])
      .tickSize(7)
      .tickSizeOuter(0)
      .tickFormat(d => d + "%");
    let ax = g.append("g")
      .attr("transform", `translate(0, ${panelH})`)
      .call(xAxis);
    ax.select(".domain").remove();
    ax.selectAll(".tick line").attr("stroke", "#333").attr("stroke-width", 1.3);
    ax.selectAll(".tick text")
      .attr("font-size", 21)
      .attr("fill", "#4d4d4d")
      .attr("text-anchor", "end")
      .attr("x", 0)
      .attr("y", 0)
      .attr("dy", "0.72em")
      .attr("transform", "translate(5, 17) rotate(-45)");

    // y axis on first column
    if (c === 0) {
      let yAxis = d3.axisLeft(y)
        .tickValues(yTicks)
        .tickSize(7)
        .tickSizeOuter(0)
        .tickFormat(d => d + "%");
      let ay = g.append("g").call(yAxis);
      ay.select(".domain").remove();
      ay.selectAll(".tick line").attr("stroke", "#333").attr("stroke-width", 1.3);
      ay.selectAll(".tick text")
        .attr("font-size", 21.5)
        .attr("fill", "#4d4d4d")
        .attr("x", -11);
    }
  });
});

svg.append("text")
  .attr("x", 570)
  .attr("y", 1130)
  .attr("text-anchor", "middle")
  .attr("font-size", 26.5)
  .attr("fill", "#000")
  .text(xTitle);

svg.append("text")
  .attr("transform", "translate(37, 572) rotate(-90)")
  .attr("text-anchor", "middle")
  .attr("font-size", 27)
  .attr("fill", "#000")
  .text(yTitle);
</script>
</body>
</html>
